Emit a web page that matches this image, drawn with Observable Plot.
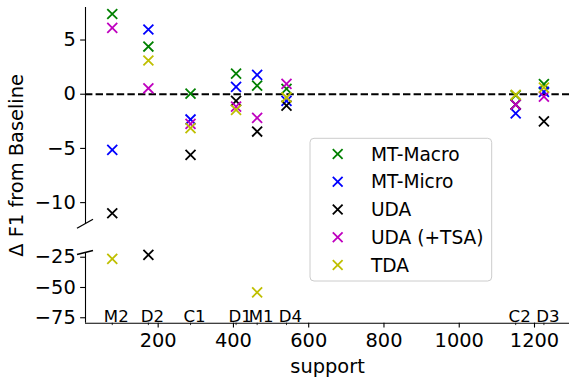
<!DOCTYPE html>
<html>
<head>
<meta charset="utf-8">
<script src="https://cdn.jsdelivr.net/npm/d3@7"></script>
<script src="https://cdn.jsdelivr.net/npm/@observablehq/plot@0.6"></script>
<style>
  body { margin: 0; background: white; }
  #chart { position: relative; width: 569px; height: 378px; }
</style>
</head>
<body>
<div id="chart"></div>
<script>
// ---- data ----
const supports = [78, 174, 286, 407, 463, 541, 1150, 1225];
const classLabels = ["M2", "D2", "C1", "D1", "M1", "D4", "C2", "D3"];
const seriesNames = ["MT-Macro", "MT-Micro", "UDA", "UDA (+TSA)", "TDA"];
const seriesColors = ["#008000", "#0000ff", "#000000", "#bf00bf", "#bfbf00"];
const mtMacro = [7.4, 4.4, 0.05, 1.9, 0.8, 0.5, -0.1, 0.93];
const mtMicro = [-5.13, 5.97, -2.33, 0.68, 1.79, -0.62, -1.76, 0.22];
const uda = [-10.98, -23.0, -5.59, -0.62, -3.44, -1.05, -0.95, -2.5];
const udaTsa = [6.12, 0.55, -2.73, -1.15, -2.18, 0.95, -0.96, -0.22];
const tda = [-26.3, 3.11, -3.13, -1.45, -54.1, -0.3, -0.05, 0.6];
const xTicks = [200, 400, 600, 800, 1000, 1200];
const yTicks = [-75, -50, -25, -10, -5, 0, 5];

const seriesValues = [mtMacro, mtMicro, uda, udaTsa, tda];
const table = seriesNames.flatMap((s, si) =>
  supports.map((x, i) => ({x, y: seriesValues[si][i], series: s}))
);

// broken axis: top panel [-12, 8], bottom panel [-79.5, -21.5]
const topPanel = [-12, 8];
const bottomPanel = [-79.5, -21.5];
const xDomain = [6.9, 1293];
// piecewise mapping of values to a continuous "axis length" coordinate (gap between panels)
const brk = d3.scaleLinear()
  .domain([bottomPanel[0], bottomPanel[1], topPanel[0], topPanel[1]])
  .range([0, 70.2, 98.9, 315.7]);

const fmt = d => d < 0 ? "\u2212" + Math.abs(d) : String(d);

const chart = Plot.plot({
  width: 569,
  height: 378,
  marginLeft: 85,
  marginRight: 0,
  marginTop: 7,
  marginBottom: 55.3,
  style: {fontFamily: "DejaVu Sans", fontSize: "19.4px", background: "white", color: "black"},
  x: {domain: xDomain, range: [85, 569]},
  y: {domain: [brk(bottomPanel[0]), brk(topPanel[1])], range: [322.7, 7]},
  color: {domain: seriesNames, range: seriesColors},
  marks: [
    Plot.ruleY([0], {y: d => brk(d), stroke: "black", strokeWidth: 2, strokeDasharray: "7.4,3.2"}),
    // spines
    Plot.ruleX([{y1: topPanel[1], y2: topPanel[0]}, {y1: bottomPanel[1], y2: bottomPanel[0]}],
      {x: () => xDomain[0], y1: d => brk(d.y1), y2: d => brk(d.y2), stroke: "black", strokeWidth: 1.1}),
    Plot.ruleY([bottomPanel[0]], {y: d => brk(d), stroke: "black", strokeWidth: 1.1}),
    Plot.axisY({ticks: yTicks.map(brk), tickSize: 4.86, tickPadding: 4.86,
      tickFormat: v => fmt(Math.round(brk.invert(v))), label: null, fontSize: 19.4, strokeWidth: 1.1}),
    Plot.axisX({ticks: xTicks, tickSize: 4.86, tickPadding: 4.86, tickFormat: d => String(d),
      label: null, fontSize: 19.4, strokeWidth: 1.1}),
    Plot.axisX({ticks: supports, tickSize: 2.4, tickFormat: () => "", label: null, strokeWidth: 0.8}),
    Plot.text(supports, {x: d => d, text: (d, i) => classLabels[i], frameAnchor: "bottom",
      lineAnchor: "bottom", dx: 4, dy: -1.5, fontSize: 16.6, fill: "black"}),
    Plot.dot(table, {x: "x", y: d => brk(d.y), stroke: "series", symbol: "times", r: 4.6, strokeWidth: 1.8}),
    Plot.text(["\u0394 F1 from Baseline"], {frameAnchor: "left", rotate: -90, dx: -68.3,
      textAnchor: "middle", lineAnchor: "middle", fontSize: 19.4, fill: "black"}),
    Plot.text(["support"], {frameAnchor: "bottom", dy: 43.3, lineAnchor: "middle", fontSize: 19.4, fill: "black"})
  ]
});

document.getElementById("chart").appendChild(chart);

// break marks and legend
const svg = d3.select(chart);
const xs = chart.scale("x"), ys = chart.scale("y");
const x0 = xs.apply(xDomain[0]);
const yb1 = ys.apply(brk(topPanel[0]));
const yb2 = ys.apply(brk(bottomPanel[1]));
svg.append("line").attr("x1", x0 - 8).attr("y1", yb1 + 4.5).attr("x2", x0 + 8).attr("y2", yb1 - 4.5)
  .attr("stroke", "black").attr("stroke-width", 1.3);
svg.append("line").attr("x1", x0 - 8).attr("y1", yb2 + 2).attr("x2", x0 + 8).attr("y2", yb2 - 2)
  .attr("stroke", "black").attr("stroke-width", 1.3);

const lg = svg.append("g").attr("font-family", "DejaVu Sans").attr("font-size", "18.6px")
  .attr("text-anchor", "start");
lg.append("rect").attr("x", 310).attr("y", 138.3).attr("width", 181.7).attr("height", 142.7)
  .attr("rx", 4).attr("fill", "white").attr("fill-opacity", 0.8).attr("stroke", "#cccccc").attr("stroke-width", 1);
seriesNames.forEach((s, i) => {
  const cy = 154 + i * 27.75;
  const h = 4.9;
  lg.append("path")
    .attr("d", `M${337.7 - h},${cy - h}L${337.7 + h},${cy + h}M${337.7 - h},${cy + h}L${337.7 + h},${cy - h}`)
    .attr("stroke", seriesColors[i]).attr("stroke-width", 1.8).attr("fill", "none");
  lg.append("text").attr("x", 371).attr("y", cy).attr("dy", "0.35em").attr("fill", "black")
    .attr("text-anchor", "start").text(s);
});
</script>
</body>
</html>
